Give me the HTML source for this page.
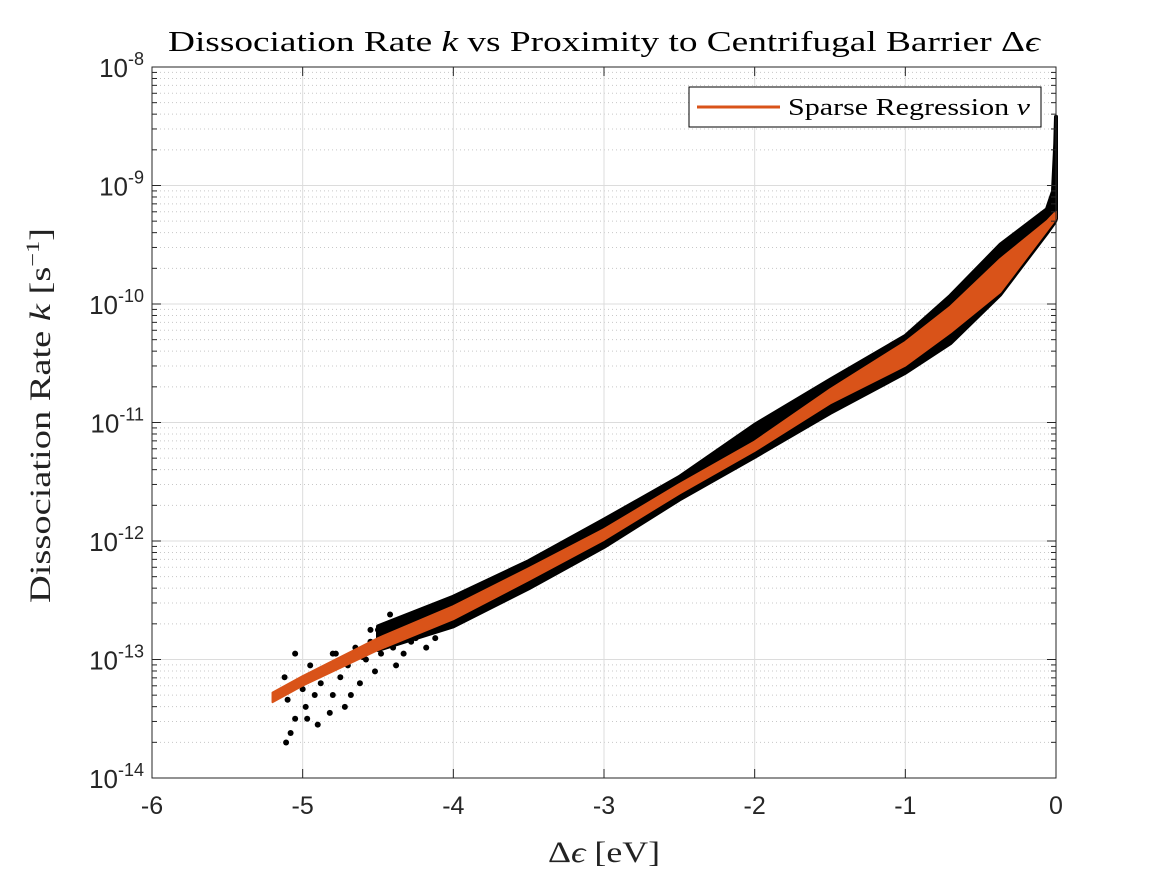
<!DOCTYPE html>
<html><head><meta charset="utf-8"><style>
body{margin:0;background:#fff;}
svg{display:block;}
</style></head><body>
<svg id="chart" width="1167" height="875" xmlns="http://www.w3.org/2000/svg">
<rect width="1167" height="875" fill="#fff"/>
<g id="grid"></g>
<g id="marks"></g>
<g id="axes"></g>
<text x="168" y="51" textLength="872" lengthAdjust="spacingAndGlyphs" font-family="Liberation Serif, serif" font-size="28" fill="#000">Dissociation Rate <tspan font-style="italic">k</tspan> vs Proximity to Centrifugal Barrier Δ<tspan font-style="italic">ϵ</tspan></text>
<text x="548" y="862" textLength="112" lengthAdjust="spacingAndGlyphs" font-family="Liberation Serif, serif" font-size="30" fill="#222">Δ<tspan font-style="italic">ϵ</tspan> [eV]</text>
<text transform="translate(50,603) rotate(-90)" textLength="375" lengthAdjust="spacingAndGlyphs" font-family="Liberation Serif, serif" font-size="30" fill="#222">Dissociation Rate <tspan font-style="italic">k</tspan> [s<tspan dy="-11" font-size="19">−1</tspan><tspan dy="11">]</tspan></text>
<g>
<rect x="689" y="87" width="352" height="40" fill="#fff" stroke="#000" stroke-width="1"/>
<line x1="697" y1="107" x2="780" y2="107" stroke="#D95319" stroke-width="3"/>
<text x="788" y="115" textLength="242" lengthAdjust="spacingAndGlyphs" font-family="Liberation Serif, serif" font-size="24" fill="#000">Sparse Regression <tspan font-style="italic">v</tspan></text>
</g>
</svg>
<script>
const xTicks=[-6,-5,-4,-3,-2,-1,0];
const yDecades=[-14,-13,-12,-11,-10,-9,-8];
const bandX=[-5.2,-5,-4.5,-4,-3.5,-3,-2.5,-2,-1.5,-1,-0.7,-0.37,-0.06,0];
const orangeHi=[-13.28,-13.14,-12.82,-12.55,-12.23,-11.9,-11.52,-11.16,-10.72,-10.32,-10.02,-9.62,-9.3,-9.22];
const orangeLo=[-13.36,-13.22,-12.92,-12.66,-12.33,-11.99,-11.6,-11.24,-10.84,-10.52,-10.24,-9.90,-9.38,-9.28];
const blackX=[-4.5,-4,-3.5,-3,-2.5,-2,-1.5,-1,-0.7,-0.37,-0.06,-0.02,-0.005,0];
const blackHi=[-12.72,-12.47,-12.17,-11.82,-11.46,-11.02,-10.64,-10.27,-9.93,-9.5,-9.2,-9.05,-8.65,-8.42];
const blackLo=[-12.92,-12.72,-12.4,-12.05,-11.65,-11.29,-10.92,-10.58,-10.33,-9.92,-9.4,-9.33,-9.3,-9.28];
const scatterX=[-5.12,-5.10,-5.08,-5.05,-5.0,-4.98,-4.95,-4.92,-4.90,-4.88,-4.85,-4.82,-4.80,-4.78,-4.75,-4.72,-4.70,-4.65,-4.62,-4.58,-4.55,-4.52,-4.48,-4.45,-4.40,-4.38,-4.35,-4.30,-4.28,-4.22,-4.18,-4.15,-4.10,-4.05,-4.0,-3.95,-3.9,-3.85,-3.8,-3.75,-3.7,-3.65,-3.6,-3.55,-3.5,-5.05,-5.11,-4.97,-4.68,-4.33,-4.6,-4.5,-4.25,-4.12,-3.98,-3.88,-3.72,-3.62,-3.45,-3.4,-3.35,-4.8,-4.55,-4.42];
const scatterY=[-13.15,-13.34,-13.62,-13.5,-13.25,-13.4,-13.05,-13.3,-13.55,-13.2,-13.1,-13.45,-13.3,-12.95,-13.15,-13.4,-13.05,-12.9,-13.2,-13.0,-12.85,-13.1,-12.95,-12.75,-12.9,-13.05,-12.8,-12.65,-12.85,-12.7,-12.9,-12.6,-12.75,-12.55,-12.7,-12.48,-12.62,-12.4,-12.55,-12.35,-12.5,-12.28,-12.42,-12.22,-12.35,-12.95,-13.7,-13.5,-13.3,-12.95,-12.98,-12.75,-12.82,-12.82,-12.6,-12.52,-12.46,-12.36,-12.3,-12.26,-12.2,-12.95,-12.75,-12.62];
const X0=152,X1=1056,Y0=778,Y1=67;
const sx=v=>X0+(v+6)/6*(X1-X0);
const sy=v=>Y0-(v+14)/6*(Y0-Y1);
const NS='http://www.w3.org/2000/svg';
function mk(parent,tag,attrs){const e=document.createElementNS(NS,tag);for(const k in attrs)e.setAttribute(k,attrs[k]);parent.appendChild(e);return e;}
const grid=document.getElementById('grid'),marks=document.getElementById('marks'),axes=document.getElementById('axes');
for(let d=-14;d<-8;d++){for(let m=2;m<10;m++){const y=sy(d+Math.log10(m));
const l=mk(grid,'line',{x1:X0,x2:X1,y1:y,y2:y,stroke:'#c8c8c8','stroke-width':1,'stroke-dasharray':'1,3'});


mk(axes,'line',{x1:X0,x2:X0+5,y1:y,y2:y,stroke:'#262626','stroke-width':1});
mk(axes,'line',{x1:X1,x2:X1-5,y1:y,y2:y,stroke:'#262626','stroke-width':1});}}
yDecades.forEach(d=>{const y=sy(d);
const l=mk(grid,'line',{x1:X0,x2:X1,y1:y,y2:y,stroke:'#dcdcdc','stroke-width':1});


mk(axes,'line',{x1:X0,x2:X0+9,y1:y,y2:y,stroke:'#262626','stroke-width':1});
mk(axes,'line',{x1:X1,x2:X1-9,y1:y,y2:y,stroke:'#262626','stroke-width':1});
const t=mk(axes,'text',{x:X0-8,y:y+10,'text-anchor':'end','font-family':'Liberation Sans, sans-serif','font-size':26,fill:'#262626'});


t.innerHTML='10<tspan dy="-12" font-size="18">'+(d<0?'-':'')+Math.abs(d)+'</tspan>';});
xTicks.forEach(v=>{const x=sx(v);
const l=mk(grid,'line',{x1:x,x2:x,y1:Y1,y2:Y0,stroke:'#dcdcdc','stroke-width':1});


mk(axes,'line',{x1:x,x2:x,y1:Y0,y2:Y0-9,stroke:'#262626','stroke-width':1});
mk(axes,'line',{x1:x,x2:x,y1:Y1,y2:Y1+9,stroke:'#262626','stroke-width':1});
const t=mk(axes,'text',{x:x,y:Y0+36,'text-anchor':'middle','font-family':'Liberation Sans, sans-serif','font-size':25,fill:'#262626'});


t.textContent=String(v);});
const fr=mk(axes,'rect',{x:X0,y:Y1,width:X1-X0,height:Y0-Y1,fill:'none',stroke:'#262626','stroke-width':1});


let pts=blackX.map((x,i)=>sx(x)+','+sy(blackHi[i]));
for(let i=blackX.length-1;i>=0;i--)pts.push(sx(blackX[i])+','+sy(blackLo[i]));
const bb=mk(marks,'polygon',{points:pts.join(' '),fill:'#000',stroke:'#000','stroke-width':4,'stroke-linejoin':'round'});


scatterX.forEach((x,i)=>{const c=mk(marks,'circle',{cx:sx(x),cy:sy(scatterY[i]),r:3,fill:'#000'});

});
let op=bandX.map((x,i)=>sx(x)+','+sy(orangeHi[i]));
for(let i=bandX.length-1;i>=0;i--)op.push(sx(bandX[i])+','+sy(orangeLo[i]));
const ob=mk(marks,'polygon',{points:op.join(' '),fill:'#D95319',stroke:'#D95319','stroke-width':2,'stroke-linejoin':'round'});


</script>
</body></html>
